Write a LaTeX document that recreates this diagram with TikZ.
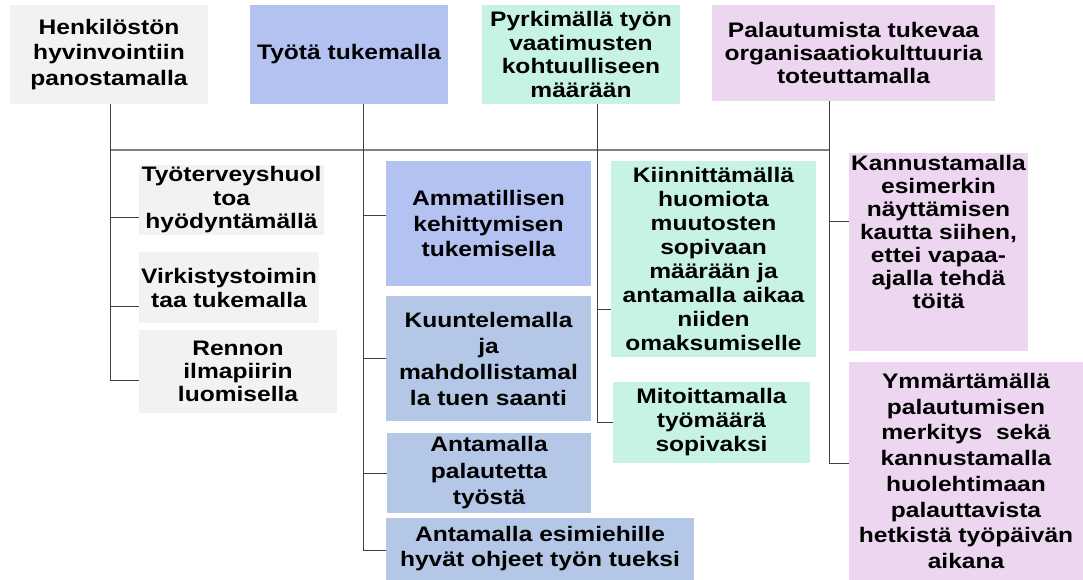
\documentclass[tikz,border=0pt]{standalone}
\usepackage{fontspec}
\setmainfont{Liberation Sans}[FakeStretch=1.17]
\definecolor{cgray}{HTML}{F2F2F2}
\definecolor{cperi}{HTML}{B4C2F2}
\definecolor{csteel}{HTML}{B4C7E7}
\definecolor{cmint}{HTML}{C7F3E3}
\definecolor{clav}{HTML}{EDD6F0}
\begin{document}
\begin{tikzpicture}[x=1pt,y=-1pt,
  box/.style={fill=#1, draw=none, inner sep=0pt, align=center,
    font=\bfseries\fontsize{21}{25.5}\selectfont, text=black},
  sz/.style={font=\bfseries\fontsize{21}{#1}\selectfont},
  conn/.style={draw=black!75, line width=1pt},
  bar/.style={draw=black!50, line width=1.2pt}]
\useasboundingbox (0,0) rectangle (1083,580);
% top level
\node[box=cgray, minimum width=198, minimum height=99] (h1) at (109,54.5) {Henkilöstön\\hyvinvointiin\\panostamalla};
\node[box=cperi, minimum width=198, minimum height=99] (h2) at (349,54.5) {Työtä tukemalla};
\node[box=cmint, minimum width=198, minimum height=99, sz=23.5] (h3) at (581,54.5) {Pyrkimällä työn\\vaatimusten\\kohtuulliseen\\määrään};
\node[box=clav, minimum width=283, minimum height=96, sz=23] (h4) at (853.5,53) {Palautumista tukevaa\\organisaatiokulttuuria\\toteuttamalla};
% column 1
\node[box=cgray, minimum width=185, minimum height=70, sz=23.5] (c11) at (231.5,200) {Työterveyshuol\\toa\\hyödyntämällä};
\node[box=cgray, minimum width=180, minimum height=71, sz=24] (c12) at (229,287.5) {Virkistystoimin\\taa tukemalla};
\node[box=cgray, minimum width=198, minimum height=83, sz=23] (c13) at (238,371.5) {Rennon\\ilmapiirin\\luomisella};
% column 2
\node[box=cperi, minimum width=205, minimum height=125] (c21) at (488.5,223.5) {Ammatillisen\\kehittymisen\\tukemisella};
\node[box=csteel, minimum width=205, minimum height=125, sz=26] (c22) at (488.5,358.5) {Kuuntelemalla\\ja\\mahdollistamal\\la tuen saanti};
\node[box=csteel, minimum width=204, minimum height=80, sz=26.5] (c23) at (489,473) {Antamalla\\palautetta\\työstä};
\node[box=csteel, minimum width=308, minimum height=62, sz=25] (c24) at (540,549) {Antamalla esimiehille\\hyvät ohjeet työn tueksi};
% column 3
\node[box=cmint, minimum width=205, minimum height=196, sz=24] (c31) at (713.5,259) {Kiinnittämällä\\huomiota\\muutosten\\sopivaan\\määrään ja\\antamalla aikaa\\niiden\\omaksumiselle};
\node[box=cmint, minimum width=197, minimum height=81, sz=24] (c32) at (711.5,422.5) {Mitoittamalla\\työmäärä\\sopivaksi};
% column 4
\node[box=clav, minimum width=179, minimum height=198] (c41) at (938.5,252) {};
\node[box=clav, anchor=north, sz=23] (c41t) at (938.5,155) {Kannustamalla\\esimerkin\\näyttämisen\\kautta siihen,\\ettei vapaa-\\ajalla tehdä\\töitä};
\node[box=clav, minimum width=234, minimum height=218, sz=25.7] (c42) at (966,471) {Ymmärtämällä\\palautumisen\\merkitys\ \ sekä\\kannustamalla\\huolehtimaan\\palauttavista\\hetkistä työpäivän\\aikana};
% trunk coordinates
\coordinate (v1) at ([xshift=1]h1.south);
\coordinate (v2) at ([xshift=14]h2.south);
\coordinate (v3) at ([xshift=16]h3.south);
\coordinate (v4) at ([xshift=-24.5]h4.south);
% horizontal bar
\draw[bar] (v1 |- 0,150) -- (v4 |- 0,150);
% connectors
\draw[conn] (v1) |- ([yshift=-17]c11.west);
\draw[conn] (v1) |- ([yshift=-18.5]c12.west);
\draw[conn] (v1) |- ([yshift=-8.5]c13.west);
\draw[conn] (v2) |- ([yshift=8.5]c21.west);
\draw[conn] (v2) |- (c22.west);
\draw[conn] (v2) |- (c23.west);
\draw[conn] (v2) |- ([yshift=-1]c24.west);
\draw[conn] (v3) |- ([yshift=-50]c31.west);
\draw[conn] (v3) |- (c32.west);
\draw[conn] (v4) |- ([yshift=31]c41.west);
\draw[conn] (v4) |- ([yshift=8]c42.west);
\end{tikzpicture}
\end{document}
